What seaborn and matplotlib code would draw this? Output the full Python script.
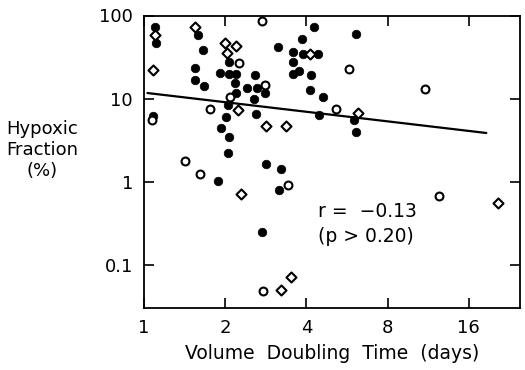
import matplotlib
matplotlib.use("Agg")
import matplotlib.pyplot as plt
import seaborn as sns
import pandas as pd
import numpy as np

# ---- data ----
filled_x = [1.10, 1.11, 1.08, 1.58, 1.66, 1.55, 1.54, 1.67, 2.07, 1.91, 2.07, 2.19,
            2.17, 2.19, 2.05, 2.01, 1.93, 2.07, 2.58, 2.41, 2.62, 2.80, 2.55, 2.60,
            3.13, 3.84, 4.28, 3.56, 3.90, 4.40, 3.56, 3.77, 3.56, 4.18, 4.11, 4.63,
            4.47, 6.12, 6.02, 6.12, 2.05, 1.88, 2.83, 3.21, 3.18, 2.73]
filled_y = [72.7, 46.7, 6.2, 58.3, 38.5, 23.4, 16.8, 14.2, 27.6, 20.4, 19.8, 19.8,
            15.4, 11.7, 8.4, 6.0, 4.44, 3.46, 19.3, 13.4, 13.4, 11.7, 9.9, 6.55,
            41.8, 52.2, 72.7, 36.4, 34.5, 34.5, 27.6, 21.5, 19.8, 19.3, 12.7, 10.5,
            6.37, 59.9, 5.55, 3.98, 2.23, 1.03, 1.64, 1.43, 0.80, 0.25]

open_x = [2.73, 2.25, 2.80, 2.08, 1.76, 1.07, 5.77, 5.16, 11.0, 1.42, 1.62, 3.41,
          2.76, 12.4]
open_y = [85.9, 26.9, 14.6, 10.5, 7.5, 5.55, 22.8, 7.5, 13.1, 1.78, 1.25, 0.92,
          0.049, 0.68]

diam_x = [1.54, 1.10, 1.08, 2.00, 2.19, 2.03, 2.23, 2.83, 3.35, 4.14, 6.22, 2.29,
          3.21, 3.50, 20.6]
diam_y = [72.7, 58.3, 22.1, 46.7, 43.0, 35.4, 7.3, 4.7, 4.7, 34.5, 6.73, 0.72,
          0.050, 0.072, 0.56]

line_x = [1.03, 18.6]
line_y = [11.7, 3.87]

x_ticks = [1, 2, 4, 8, 16]
x_tick_labels = ["1", "2", "4", "8", "16"]
y_ticks = [0.1, 1, 10, 100]
y_tick_labels = ["0.1", "1", "10", "100"]

annot_lines = ["r =  \u22120.13", "(p > 0.20)"]

# ---- plotting ----
sns.set_theme(style="ticks")
plt.rcParams["font.family"] = ["DejaVu Sans"]
plt.rcParams["text.color"] = "black"

fig = plt.figure(figsize=(5.25, 3.70), dpi=100)
ax = fig.add_axes([144 / 525, 1 - 308 / 370, (520 - 144) / 525, (308 - 15.5) / 370])

ax.set_xscale("log", base=2)
ax.set_yscale("log", base=10)

sns.lineplot(x=line_x, y=line_y, ax=ax, color="black", linewidth=1.6, zorder=1)

df_f = pd.DataFrame({"x": filled_x, "y": filled_y})
df_o = pd.DataFrame({"x": open_x, "y": open_y})
df_d = pd.DataFrame({"x": diam_x, "y": diam_y})

sns.scatterplot(data=df_f, x="x", y="y", ax=ax, marker="o", s=38,
                color="black", edgecolor="black", linewidth=0.5, zorder=2)
sns.scatterplot(data=df_o, x="x", y="y", ax=ax, marker="o", s=32,
                facecolor="white", edgecolor="black", linewidth=1.5, zorder=3)
sns.scatterplot(data=df_d, x="x", y="y", ax=ax, marker="D", s=26,
                facecolor="white", edgecolor="black", linewidth=1.5, zorder=3)

ax.set_xlim(1.02, 24.8)
ax.set_ylim(0.0305, 100)

ax.set_xticks(x_ticks)
ax.set_xticklabels(x_tick_labels)
ax.set_yticks(y_ticks)
ax.set_yticklabels(y_tick_labels)
ax.minorticks_off()

ax.tick_params(axis="both", which="major", direction="in", length=7, width=1.2,
               labelsize=13, colors="black", top=True, right=True)
ax.tick_params(axis="x", pad=8)
ax.tick_params(axis="y", pad=8)

for sp in ax.spines.values():
    sp.set_visible(True)
    sp.set_linewidth(1.3)
    sp.set_color("black")

ax.set_xlabel("Volume  Doubling  Time  (days)", fontsize=13.5, color="black", labelpad=5)
ax.set_ylabel("Hypoxic\nFraction\n(%)", fontsize=13, color="black", rotation=0,
              ha="center", va="center", linespacing=1.2)
ax.yaxis.set_label_coords(-0.27, 0.54)

ax.text(4.43, 0.44, annot_lines[0], fontsize=13.5, ha="left", va="center", color="black")
ax.text(4.43, 0.22, annot_lines[1], fontsize=13.5, ha="left", va="center", color="black")

fig.savefig("out.png", dpi=100)
